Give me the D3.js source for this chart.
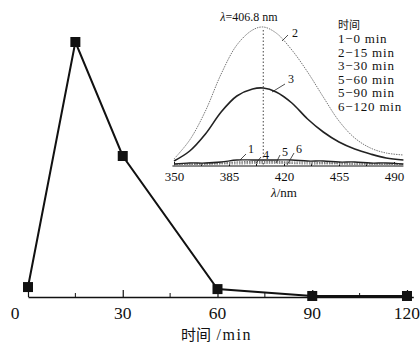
<!DOCTYPE html>
<html>
<head>
<meta charset="utf-8">
<script src="https://cdn.jsdelivr.net/npm/d3@7"></script>
<style>
  body { margin: 0; background: #fff; }
  svg text { font-family: "Liberation Serif", "DejaVu Serif", serif; fill: #111; }
  .cjk { font-family: "Noto Sans CJK SC", sans-serif; }
</style>
</head>
<body>
<div id="chart"></div>
<script>
(function(){

    var width = 420, height = 344;

    // main chart: relative peak intensity vs time
    var times = [0, 15, 30, 60, 90, 120];
    var intensity = [3.9, 100, 55.3, 3.1, 0.4, 0.4];
    var timeTicks = [0, 30, 60, 90, 120];

    // inset: emission spectra
    var wavelengths = [350, 360, 370, 380, 390, 400, 406.8, 415, 425, 435, 445, 455, 465, 475, 485, 496];
    var spec2 = [7, 26, 55, 92, 121, 136, 139, 133, 116, 94, 69, 45, 28, 18, 13, 11];
    var spec3 = [5, 15, 32, 54, 70, 77, 78, 74, 63, 47, 34, 24, 17, 12, 8, 6];
    var spec1 = [2, 3, 3, 4, 6, 6, 6, 6, 6, 5, 5, 4, 4, 3, 3, 2];
    var spec4 = [1.5, 2, 2.5, 3, 4, 4.5, 4.5, 4.5, 4, 4, 3.5, 3, 3, 2.5, 2, 1.5];
    var spec5 = [1, 1.5, 2, 2.5, 3, 3.5, 3.5, 3.5, 3, 3, 2.5, 2.5, 2, 2, 1.5, 1];
    var spec6 = [1, 1, 1.5, 2, 2, 2.5, 2.5, 2.5, 2.5, 2, 2, 2, 1.5, 1.5, 1, 1];
    var nmTicks = [350, 385, 420, 455, 490];
    var peakNm = 406.8;
    var legendTitle = "时间";
    var legendItems = ["1−0 min", "2−15 min", "3−30 min", "5−60 min", "5−90 min", "6−120 min"];

    var svg = d3.select("#chart").append("svg")
        .attr("width", width)
        .attr("height", height);

    // ---- main chart ----
    var x = d3.scaleLinear().domain([0, 122]).range([28, 413.3]);
    var y = d3.scaleLinear().domain([0, 100]).range([297, 42]);

    var xAxis = svg.append("g")
        .attr("transform", "translate(0,297)")
        .call(d3.axisBottom(x).tickValues(timeTicks).tickFormat("")
            .tickSizeInner(-7).tickSizeOuter(0));
    xAxis.select(".domain").attr("stroke", "#111").attr("stroke-width", 1.3);
    xAxis.selectAll(".tick line").attr("stroke", "#111").attr("stroke-width", 1.2);
    // tick labels (the 0 sits a little left of its tick, as in the original)
    svg.append("g").selectAll("text")
        .data(timeTicks)
        .enter().append("text")
        .attr("x", function(d){ return x(d) + (d === 0 ? -13 : 0); })
        .attr("y", 319)
        .attr("text-anchor", "middle")
        .attr("font-size", 17.5)
        .style("fill", "#111")
        .text(function(d){ return String(d); });
    // minor ticks
    svg.append("g").selectAll("line")
        .data([15, 45, 75, 105])
        .enter().append("line")
        .attr("x1", function(d){ return x(d); })
        .attr("x2", function(d){ return x(d); })
        .attr("y1", 297).attr("y2", 293)
        .attr("stroke", "#111").attr("stroke-width", 1);

    var title = svg.append("text")
        .attr("x", x(60) - 1).attr("y", 340)
        .attr("text-anchor", "middle")
        .attr("font-size", 16);
    title.append("tspan").attr("class", "cjk").attr("font-size", 15).text("时间");
    title.append("tspan").attr("letter-spacing", 1.5).text(" /min");

    var pts = times.map(function(t, i){ return [t, intensity[i]]; });
    svg.append("path")
        .datum(pts)
        .attr("fill", "none")
        .attr("stroke", "#111")
        .attr("stroke-width", 2)
        .attr("d", d3.line().x(function(d){ return x(d[0]); }).y(function(d){ return y(d[1]); }));
    svg.append("g").selectAll("rect")
        .data(pts)
        .enter().append("rect")
        .attr("x", function(d){ return x(d[0]) - 5; })
        .attr("y", function(d){ return y(d[1]) - 5; })
        .attr("width", 10).attr("height", 10)
        .attr("fill", "#111");

    // ---- inset ----
    var ix = d3.scaleLinear().domain([350, 490]).range([174, 394]);
    var iy = d3.scaleLinear().domain([0, 140]).range([166, 26]);

    var inAxis = svg.append("g")
        .attr("transform", "translate(0,166)")
        .call(d3.axisBottom(ix).tickValues(nmTicks).tickSizeInner(-4).tickSizeOuter(0).tickPadding(6));
    inAxis.select(".domain")
        .attr("d", "M" + ix(349) + ",0H" + ix(496))
        .attr("stroke", "#111").attr("stroke-width", 1);
    inAxis.selectAll(".tick line").attr("stroke", "#111");
    inAxis.selectAll(".tick text")
        .attr("font-size", 13)
        .attr("font-family", "Liberation Serif, serif")
        .attr("fill", "#111");
    svg.append("g").selectAll("line")
        .data([367.5, 402.5, 437.5, 472.5])
        .enter().append("line")
        .attr("x1", function(d){ return ix(d); })
        .attr("x2", function(d){ return ix(d); })
        .attr("y1", 166).attr("y2", 163.5)
        .attr("stroke", "#111");

    var nmLabel = svg.append("text")
        .attr("x", ix(420)).attr("y", 197)
        .attr("text-anchor", "middle")
        .attr("font-size", 13);
    nmLabel.append("tspan").attr("font-style", "italic").text("λ");
    nmLabel.append("tspan").text("/nm");

    var specLine = d3.line()
        .curve(d3.curveCatmullRom)
        .x(function(d){ return ix(d[0]); })
        .y(function(d){ return iy(d[1]); });
    var pair = function(vals){ return wavelengths.map(function(w, i){ return [w, vals[i]]; }); };

    var series = [
        { v: spec6, color: "#999", w: 1.2, dash: "1.5,1" },
        { v: spec5, color: "#888", w: 1.2, dash: "1.5,1" },
        { v: spec4, color: "#777", w: 1.2, dash: "1.5,1" },
        { v: spec1, color: "#222", w: 1.3, dash: null },
        { v: spec3, color: "#222", w: 1.6, dash: null },
        { v: spec2, color: "#777", w: 1, dash: "1.5,1" }
    ];
    svg.append("g").selectAll("path")
        .data(series)
        .enter().append("path")
        .attr("fill", "none")
        .attr("stroke", function(d){ return d.color; })
        .attr("stroke-width", function(d){ return d.w; })
        .attr("stroke-dasharray", function(d){ return d.dash; })
        .attr("d", function(d){ return specLine(pair(d.v)); });

    // peak marker
    svg.append("line")
        .attr("x1", ix(peakNm)).attr("x2", ix(peakNm))
        .attr("y1", iy(136)).attr("y2", 166)
        .attr("stroke", "#444").attr("stroke-width", 1)
        .attr("stroke-dasharray", "1.5,2");
    var peakLabel = svg.append("text")
        .attr("x", 249).attr("y", 21)
        .attr("text-anchor", "middle")
        .attr("font-size", 12);
    peakLabel.append("tspan").attr("font-style", "italic").text("λ");
    peakLabel.append("tspan").text("=406.8 nm");

    // curve labels with leaders
    var labels = [
        { t: "2", lx: 292, ly: 37, x1: 282, y1: 41, x2: 288, y2: 35 },
        { t: "3", lx: 288, ly: 83, x1: 272, y1: 92, x2: 285, y2: 84 },
        { t: "1", lx: 248, ly: 153, x1: 240, y1: 160, x2: 246, y2: 154 },
        { t: "4", lx: 263, ly: 159, x1: 256, y1: 163, x2: 261, y2: 157 },
        { t: "5", lx: 282, ly: 156, x1: 276, y1: 163, x2: 280, y2: 155 },
        { t: "6", lx: 296, ly: 153, x1: 287, y1: 165, x2: 294, y2: 153 }
    ];
    var lab = svg.append("g").selectAll("g").data(labels).enter().append("g");
    lab.append("line")
        .attr("x1", function(d){ return d.x1; }).attr("y1", function(d){ return d.y1; })
        .attr("x2", function(d){ return d.x2; }).attr("y2", function(d){ return d.y2; })
        .attr("stroke", "#222").attr("stroke-width", 0.8);
    lab.append("text")
        .attr("x", function(d){ return d.lx; }).attr("y", function(d){ return d.ly; })
        .attr("font-size", 12)
        .text(function(d){ return d.t; });

    // legend
    var legend = svg.append("g").attr("transform", "translate(338,0)");
    legend.append("text")
        .attr("class", "cjk")
        .attr("x", 0).attr("y", 29)
        .attr("font-size", 11)
        .text(legendTitle);
    legend.selectAll("text.item")
        .data(legendItems)
        .enter().append("text")
        .attr("class", "item")
        .attr("x", 0)
        .attr("y", function(d, i){ return 43 + i * 13.6; })
        .attr("font-size", 13)
        .attr("letter-spacing", 0.8)
        .text(function(d){ return d; });

})();
</script>
</body>
</html>
